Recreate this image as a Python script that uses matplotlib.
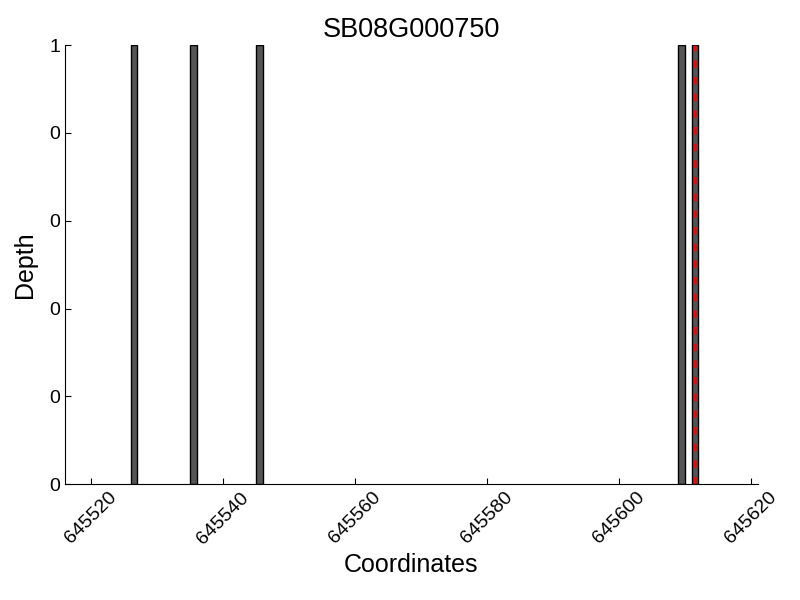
import numpy as np
import matplotlib.pyplot as plt
from matplotlib.ticker import FormatStrFormatter

plt.rcParams['font.family'] = ['Liberation Sans', 'DejaVu Sans']

# data
gene = "SB08G000750"
positions = [645526, 645535, 645545, 645609, 645611]
depth = [1, 1, 1, 1, 1]
marker_pos = 645611.5
x_ticks = [645520, 645540, 645560, 645580, 645600, 645620]
y_ticks = [0, 0.2, 0.4, 0.6, 0.8, 1.0]

fig = plt.figure(figsize=(8, 6), dpi=100)
ax = fig.add_axes([0.081, 0.193, 0.866, 0.732])

ax.bar(positions, depth, width=1, align='edge', color='#555555',
       edgecolor='black', linewidth=1)
ax.axvline(marker_pos, color='red', linestyle='--', linewidth=2, dashes=(2.7, 3.3))

ax.set_xlim(min(positions) - 10, max(positions) + 10)
ax.set_ylim(0, 1)
ax.set_xticks(x_ticks)
ax.set_yticks(y_ticks)
ax.yaxis.set_major_formatter(FormatStrFormatter('%d'))
ax.xaxis.set_major_formatter(FormatStrFormatter('%d'))

for s in ['top', 'right']:
    ax.spines[s].set_visible(False)
ax.tick_params(direction='in', length=4, labelsize=14, top=False, right=False)
plt.setp(ax.get_xticklabels(), rotation=45)

ax.set_title(gene, fontsize=19.5)
ax.set_xlabel('Coordinates', fontsize=18)
ax.set_ylabel('Depth', fontsize=18, labelpad=9)

fig.savefig('out.png', dpi=100)
